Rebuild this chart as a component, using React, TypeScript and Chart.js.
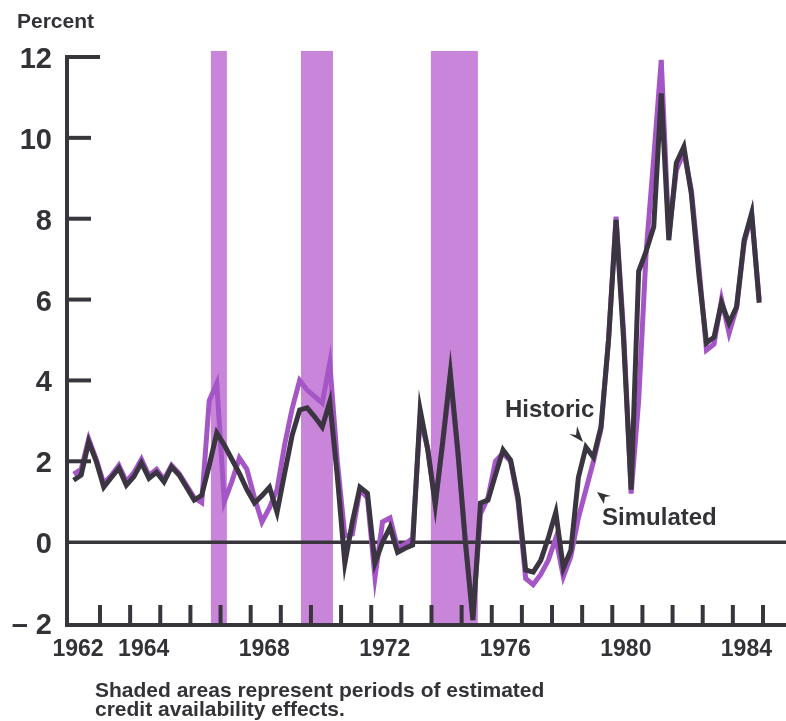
import React, { useEffect, useRef } from 'react';
import { Chart, registerables } from 'chart.js';

Chart.register(...registerables);

// ---- data (quarterly, first observation 1962 Q1) ----
const firstQuarter = 1962.125;
const historic = [
  1.53, 1.66, 2.48, 2.0, 1.36, 1.6, 1.83, 1.41, 1.62, 1.96, 1.58, 1.73,
  1.49, 1.86, 1.66, 1.35, 1.04, 1.16, 1.9, 2.7, 2.4, 2.05, 1.7, 1.3,
  0.97, 1.15, 1.36, 0.74, 1.7, 2.64, 3.27, 3.32, 3.1, 2.85, 3.47, 1.63,
  -0.52, 0.5, 1.36, 1.21, -0.52, 0.0, 0.37, -0.25, -0.15, -0.07, 3.27, 2.3,
  0.92, 2.5, 4.18, 2.25, 0.0, -1.93, 0.97, 1.04, 1.67, 2.28, 2.03, 1.1,
  -0.69, -0.74, -0.45, 0.1, 0.74, -0.64, -0.2, 1.6, 2.35, 2.1, 2.85, 5.0,
  7.97, 5.0, 1.3, 6.7, 7.2, 7.8, 11.1, 7.47, 9.38, 9.78, 8.6, 6.6,
  4.93, 5.07, 5.92, 5.42, 5.82, 7.47, 8.14, 5.92,
];
const simulated = [
  1.68, 1.8, 2.55, 2.05, 1.45, 1.65, 1.9, 1.5, 1.72, 2.05, 1.65, 1.8,
  1.55, 1.9, 1.7, 1.4, 1.1, 0.98, 3.5, 3.93, 1.0, 1.5, 2.08, 1.8,
  1.1, 0.5, 0.85, 1.3, 2.4, 3.3, 4.0, 3.76, 3.6, 3.44, 4.43, 2.0,
  0.15, 0.2, 1.3, 1.1, -0.87, 0.5, 0.6, -0.15, -0.05, 0.1, 3.1, 2.3,
  1.0, 2.45, 4.1, 2.2, 0.0, -1.85, 0.7, 1.1, 2.0, 2.2, 2.0, 1.0,
  -0.9, -1.05, -0.8, -0.45, 0.1, -0.85, -0.35, 0.6, 1.3, 2.0, 2.8, 5.0,
  8.05, 5.2, 1.2, 3.5, 7.2, 9.5, 11.93, 7.6, 9.2, 9.65, 8.7, 6.8,
  4.75, 4.9, 6.0, 5.17, 5.8, 7.4, 8.1, 5.99,
];

const yTickValues = [12, 10, 8, 6, 4, 2, 0, -2];
const yTickLabels = ['12', '10', '8', '6', '4', '2', '0', '\u2013 2'];
const xTickYears = [
  1963, 1964, 1965, 1966, 1967, 1968, 1969, 1970, 1971, 1972, 1973, 1974,
  1975, 1976, 1977, 1978, 1979, 1980, 1981, 1982, 1983, 1984, 1985,
];
const xLabelYears = [1962, 1964, 1968, 1972, 1976, 1980, 1984];
const shadedStarts = [1966.68, 1969.67, 1973.98];
const shadedEnds = [1967.21, 1970.73, 1975.54];
const shadeTop = 12.15;

// ---- styles ----
const DARK = '#3b3542';
const PURPLE = '#a556c6';
const SHADE = '#c985d9';
const AXIS = '#38363c';
const TEXT = '#333236';
const FONT = '"Liberation Sans", Arial, Helvetica, sans-serif';

const points = (vals: number[]) =>
  vals.map((v, i) => ({ x: firstQuarter + i * 0.25, y: v }));

const decorPlugin = {
  id: 'decor',
  beforeDatasetsDraw(chart: any) {
    const { ctx, scales } = chart;
    const x = scales.x;
    const y = scales.y;
    ctx.save();
    ctx.fillStyle = SHADE;
    const yt = y.getPixelForValue(shadeTop);
    const yb = y.getPixelForValue(-2);
    shadedStarts.forEach((s, k) => {
      const x0 = x.getPixelForValue(s);
      const x1 = x.getPixelForValue(shadedEnds[k]);
      ctx.fillRect(x0, yt, x1 - x0, yb - yt);
    });
    // zero line
    const y0 = y.getPixelForValue(0);
    ctx.strokeStyle = AXIS;
    ctx.lineWidth = 3.5;
    ctx.beginPath();
    ctx.moveTo(x.left, y0);
    ctx.lineTo(x.right, y0);
    ctx.stroke();
    ctx.restore();
  },
  afterDatasetsDraw(chart: any) {
    const { ctx, scales } = chart;
    const x = scales.x;
    const y = scales.y;
    const left = x.left;
    const bottom = y.getPixelForValue(-2);
    ctx.save();
    ctx.strokeStyle = AXIS;
    ctx.lineWidth = 4;
    ctx.lineCap = 'butt';
    // axes
    ctx.beginPath();
    ctx.moveTo(left, y.getPixelForValue(12) - 2);
    ctx.lineTo(left, bottom + 2);
    ctx.lineTo(x.right, bottom + 2);
    ctx.stroke();
    // y ticks
    yTickValues.forEach((v) => {
      if (v <= 0) return;
      const py = y.getPixelForValue(v);
      ctx.beginPath();
      ctx.moveTo(left, py);
      ctx.lineTo(left + (v === 12 ? 33 : 24), py);
      ctx.stroke();
    });
    // x ticks
    xTickYears.forEach((yr) => {
      const px = x.getPixelForValue(yr);
      ctx.beginPath();
      ctx.moveTo(px, bottom + 1);
      ctx.lineTo(px, bottom - 18);
      ctx.stroke();
    });
    // y labels
    ctx.fillStyle = TEXT;
    ctx.font = `bold 29px ${FONT}`;
    ctx.textAlign = 'right';
    ctx.textBaseline = 'alphabetic';
    yTickValues.forEach((v, k) => {
      const py = y.getPixelForValue(v);
      ctx.fillText(yTickLabels[k], left - 15, py + 11);
    });
    // x labels
    ctx.font = `bold 23px ${FONT}`;
    ctx.textAlign = 'center';
    xLabelYears.forEach((yr, k) => {
      let cx = x.getPixelForValue(yr + 0.45);
      if (k === 0) cx = x.getPixelForValue(yr + 0.27);
      ctx.fillText(String(yr), cx, bottom + 33);
    });
    // annotations
    ctx.textAlign = 'left';
    ctx.font = `bold 24px ${FONT}`;
    ctx.fillText('Historic', x.getPixelForValue(1976.44), y.getPixelForValue(3.095));
    ctx.font = `bold 24px ${FONT}`;
    ctx.fillText('Simulated', x.getPixelForValue(1979.66), y.getPixelForValue(0.424));
    // arrowheads
    const hx = x.getPixelForValue(1979.03);
    const hy = y.getPixelForValue(2.477);
    ctx.beginPath();
    ctx.moveTo(hx, hy);
    ctx.lineTo(hx - 14, hy - 8);
    ctx.lineTo(hx - 7, hy - 7);
    ctx.lineTo(hx - 6, hy - 16);
    ctx.closePath();
    ctx.fill();
    const sx = x.getPixelForValue(1979.49);
    const sy = y.getPixelForValue(1.24);
    ctx.beginPath();
    ctx.moveTo(sx, sy);
    ctx.lineTo(sx + 14, sy + 4);
    ctx.lineTo(sx + 8, sy + 5);
    ctx.lineTo(sx + 7, sy + 12);
    ctx.closePath();
    ctx.fill();
    // texts
    ctx.font = `bold 21px ${FONT}`;
    ctx.fillText('Percent', 17, 28);
    ctx.font = `bold 21px ${FONT}`;
    ctx.fillText('Shaded areas represent periods of estimated', 95, 697);
    ctx.fillText('credit availability effects.', 95, 716);
    ctx.restore();
  },
};

export default function App() {
  const ref = useRef<HTMLCanvasElement | null>(null);
  useEffect(() => {
    if (!ref.current) return;
    const chart = new Chart(ref.current, {
      type: 'line',
      data: {
        datasets: [
          {
            label: 'Historic',
            data: points(historic),
            borderColor: DARK,
            borderWidth: 5,
            pointRadius: 0,
            tension: 0,
            clip: false,
            borderJoinStyle: 'miter',
            order: 1,
          },
          {
            label: 'Simulated',
            data: points(simulated),
            borderColor: PURPLE,
            borderWidth: 5,
            pointRadius: 0,
            tension: 0,
            clip: false,
            borderJoinStyle: 'miter',
            order: 2,
          },
        ],
      },
      options: {
        animation: false,
        responsive: false,
        devicePixelRatio: 1,
        layout: { padding: { left: 67, right: 0, top: 57, bottom: 98 } },
        plugins: { legend: { display: false }, tooltip: { enabled: false } },
        scales: {
          x: { type: 'linear', min: 1961.905, max: 1985.764, display: false },
          y: { type: 'linear', min: -2, max: 12, display: false },
        },
      } as any,
      plugins: [decorPlugin],
    });
    return () => chart.destroy();
  }, []);
  return (
    <div style={{ position: 'absolute', left: 0, top: 0, width: 786, height: 721, background: '#fff' }}>
      <canvas ref={ref} width={786} height={721} style={{ display: 'block' }} />
    </div>
  );
}
